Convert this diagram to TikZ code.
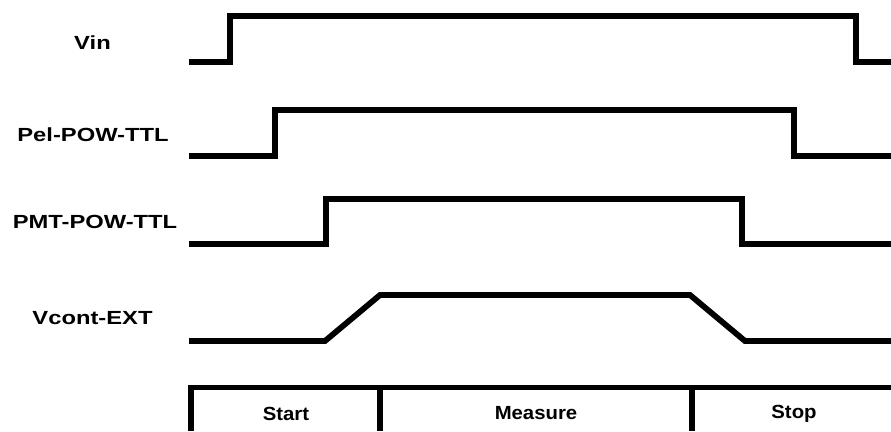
\documentclass[tikz,border=0pt]{standalone}
\usepackage{fontspec}
\setmainfont{Liberation Sans}
\begin{document}
\begin{tikzpicture}[x=1pt,y=-1pt,
  sig/.style={line width=5.8pt,line join=miter,line cap=butt},
  lbl/.style={font=\fontsize{19}{21}\selectfont\bfseries,xscale=1.25,inner sep=0pt,anchor=center},
  phase/.style={font=\fontsize{19}{21}\selectfont\bfseries,xscale=1.07,inner sep=0pt,anchor=center}]
\useasboundingbox (0,0) rectangle (891,431);
% labels
\node[lbl] (vin) at (92.5,42.5) {Vin};
\node[lbl] (pel) at (93,134.5) {Pel-POW-TTL};
\node[lbl] (pmt) at (95,222) {PMT-POW-TTL};
\node[lbl] (vc) at (92.5,318) {Vcont-EXT};
% waveforms
\draw[sig] (189,62) -- (230,62) -- (230,16) -- (856,16) -- (856,62) -- (891,62);
\draw[sig] (189,156) -- (275,156) -- (275,110) -- (794,110) -- (794,156) -- (891,156);
\draw[sig] (189,244) -- (326,244) -- (326,199) -- (742,199) -- (742,244) -- (891,244);
\draw[sig] (189,341) -- (325,341) -- (380,295) -- (690,295) -- (745,341) -- (891,341);
% phase box
\draw[sig] (191,431) -- (191,387.5) -- (891,387.5);
\draw[sig] (380,387.5) -- (380,431);
\draw[sig] (692,387.5) -- (692,431);
\node[phase] (start) at (286,413.5) {Start};
\node[phase] (meas) at (536,413.5) {Measure};
\node[phase] (stop) at (794,413.5) {Stop};
\end{tikzpicture}
\end{document}
